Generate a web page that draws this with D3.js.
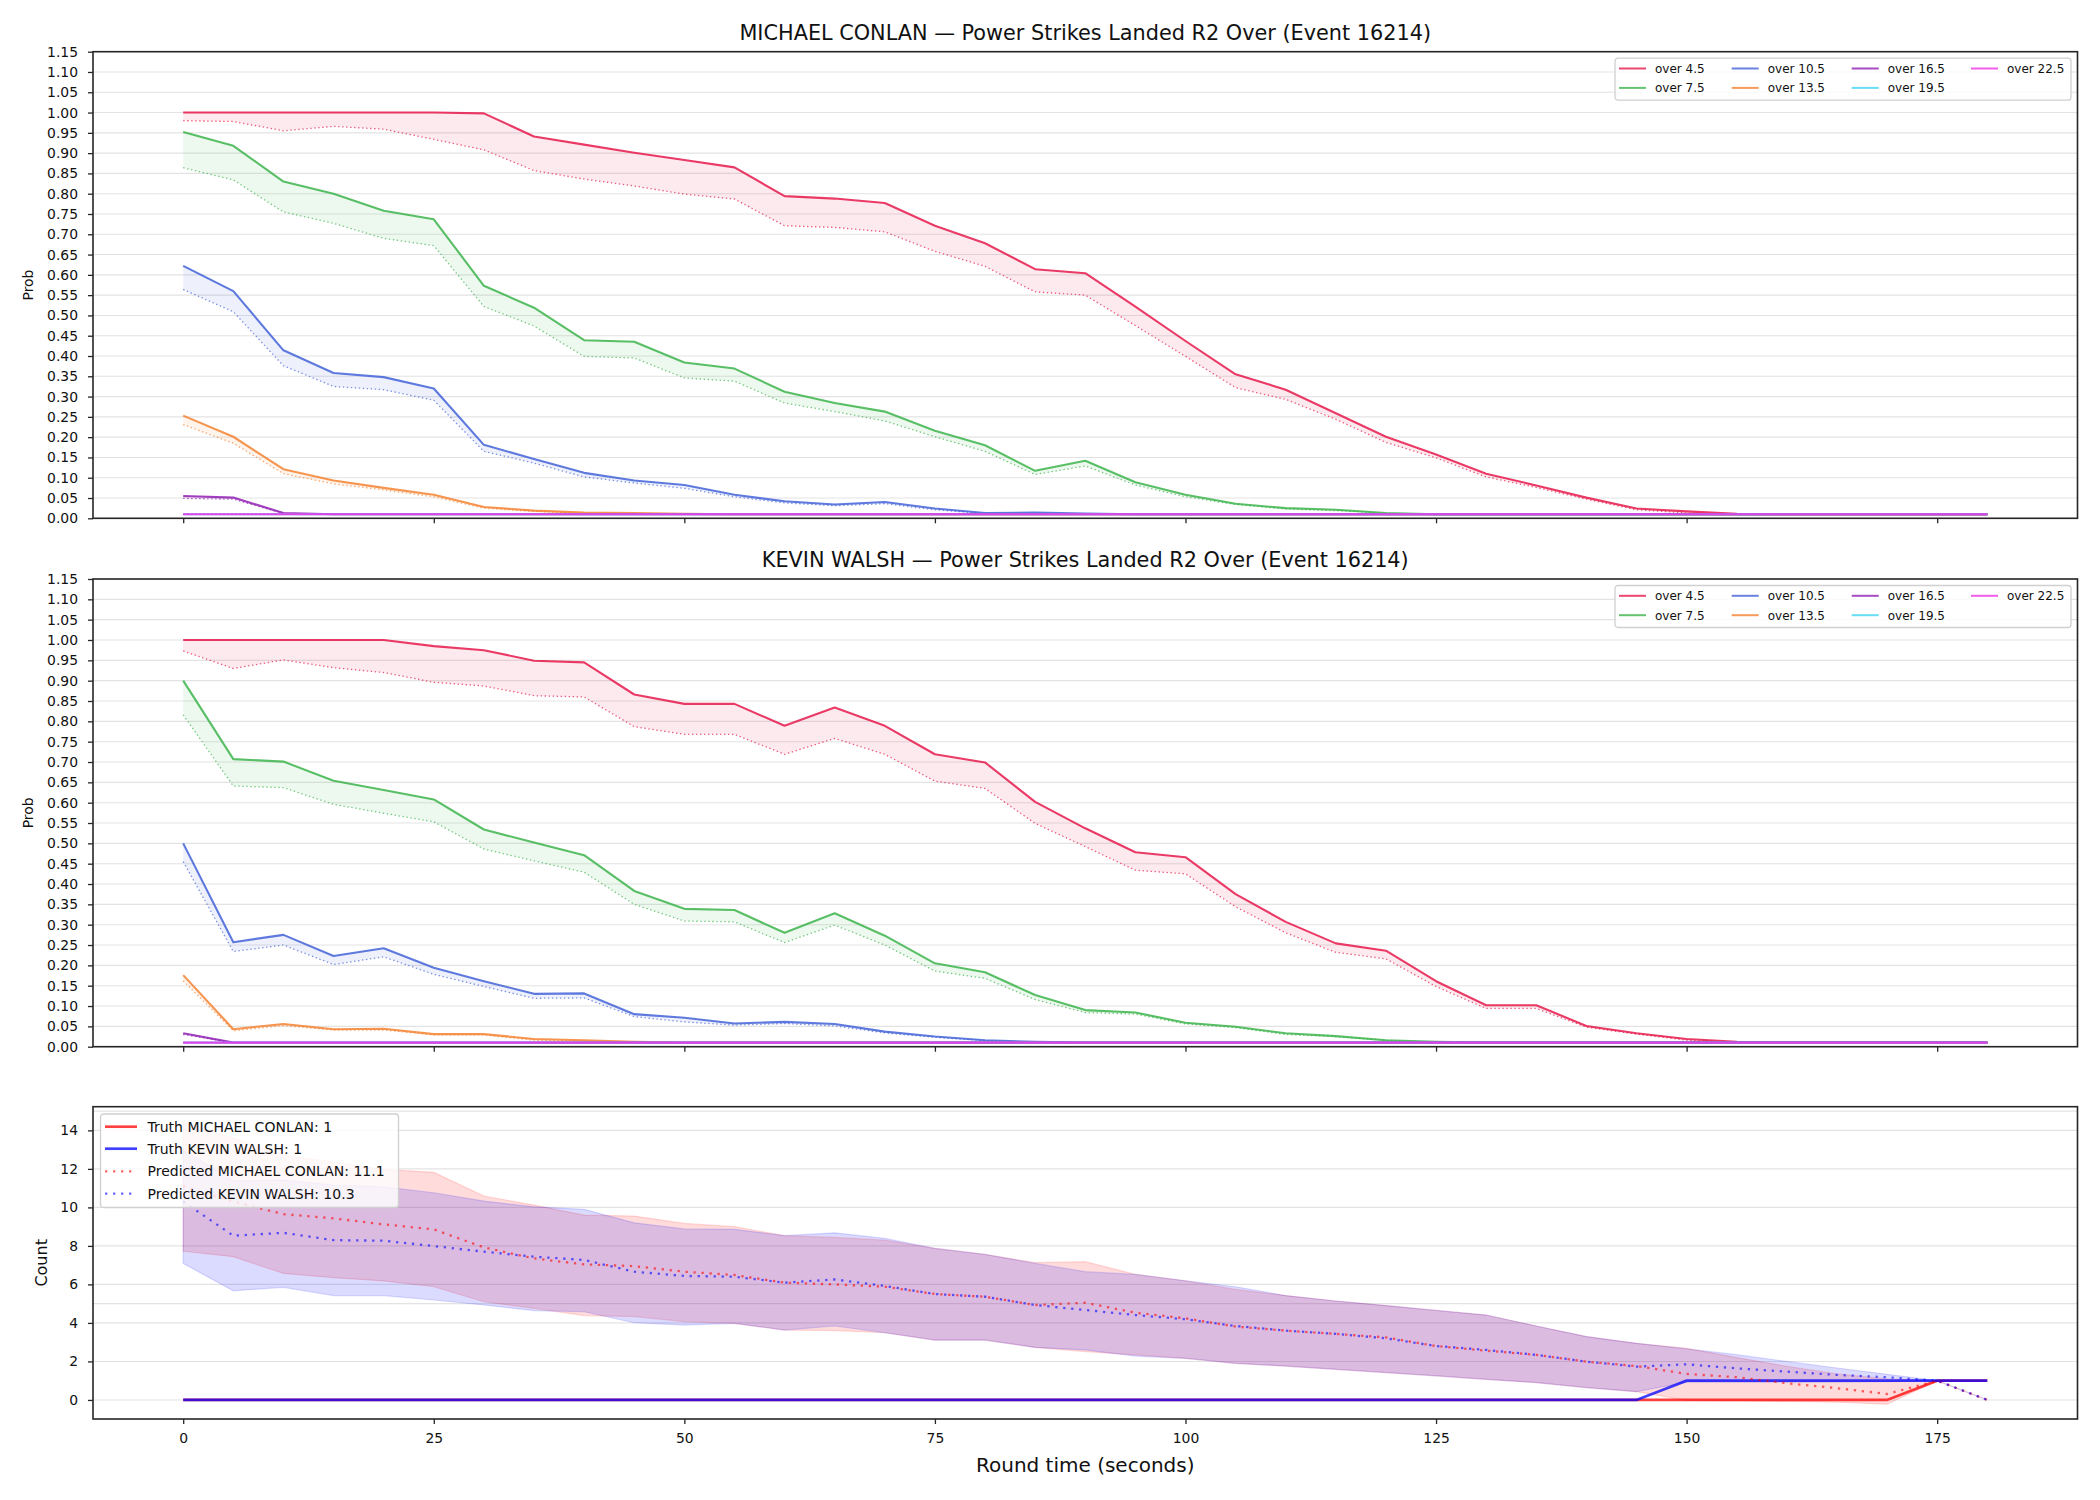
<!DOCTYPE html>
<html><head><meta charset="utf-8">
<script src="https://cdn.jsdelivr.net/npm/d3@7"></script>
<style>
body{margin:0;background:#fff}
svg{font-family:"DejaVu Sans",sans-serif;display:block}
</style>
</head><body>
<svg id="chart" width="2100" height="1500"></svg>
<script>
// ---------------- DATA ----------------
const times = [0,5,10,15,20,25,30,35,40,45,50,55,60,65,70,75,80,85,90,95,100,105,110,115,120,125,130,135,140,145,150,155,160,165,170,175,180];
const probTicks = [0,0.05,0.10,0.15,0.20,0.25,0.30,0.35,0.40,0.45,0.50,0.55,0.60,0.65,0.70,0.75,0.80,0.85,0.90,0.95,1.00,1.05,1.10,1.15];
const timeTicks = [0,25,50,75,100,125,150,175];
const countTicks = [0,2,4,6,8,10,12,14];
const countExtraGrid = [5,15];
const thresholdLabels = ["over 4.5","over 7.5","over 10.5","over 13.5","over 16.5","over 19.5","over 22.5"];
const thresholdColors = ["#e6194b","#3cb44b","#4363d8","#f58231","#911eb4","#42d4f4","#f032e6"];
const titles = ["MICHAEL CONLAN — Power Strikes Landed R2 Over (Event 16214)", "KEVIN WALSH — Power Strikes Landed R2 Over (Event 16214)"];

// MICHAEL CONLAN (solid = market, dotted = model)
const conlanOver45 = [1.00,1.00,1.00,1.00,1.00,1.00,0.998,0.941,0.921,0.901,0.883,0.865,0.794,0.788,0.777,0.721,0.678,0.614,0.604,0.522,0.437,0.355,0.317,0.259,0.201,0.157,0.110,0.081,0.051,0.024,0.017,0.011,0.010,0.010,0.010,0.010,0.010];
const conlanOver45Model = [0.980,0.978,0.955,0.966,0.959,0.934,0.908,0.857,0.836,0.819,0.799,0.787,0.721,0.717,0.706,0.658,0.621,0.558,0.550,0.475,0.399,0.322,0.293,0.244,0.187,0.149,0.102,0.076,0.047,0.021,0.013,0.010,0.010,0.010,0.010,0.010,0.010];
const conlanOver75 = [0.952,0.918,0.830,0.800,0.758,0.737,0.573,0.519,0.439,0.435,0.384,0.369,0.312,0.284,0.263,0.216,0.180,0.117,0.142,0.089,0.058,0.036,0.025,0.021,0.013,0.010,0.010,0.010,0.010,0.010,0.010,0.010,0.010,0.010,0.010,0.010,0.010];
const conlanOver75Model = [0.864,0.834,0.755,0.727,0.690,0.672,0.522,0.474,0.399,0.395,0.346,0.338,0.284,0.263,0.240,0.201,0.165,0.108,0.129,0.082,0.053,0.034,0.023,0.019,0.013,0.010,0.010,0.010,0.010,0.010,0.010,0.010,0.010,0.010,0.010,0.010,0.010];
const conlanOver105 = [0.622,0.560,0.414,0.358,0.348,0.320,0.181,0.146,0.112,0.093,0.082,0.058,0.042,0.034,0.040,0.024,0.013,0.014,0.012,0.010,0.010,0.010,0.010,0.010,0.010,0.010,0.010,0.010,0.010,0.010,0.010,0.010,0.010,0.010,0.010,0.010,0.010];
const conlanOver105Model = [0.564,0.509,0.376,0.325,0.317,0.291,0.165,0.136,0.102,0.087,0.074,0.053,0.038,0.031,0.036,0.021,0.012,0.012,0.011,0.010,0.010,0.010,0.010,0.010,0.010,0.010,0.010,0.010,0.010,0.010,0.010,0.010,0.010,0.010,0.010,0.010,0.010];
const conlanOver135 = [0.253,0.201,0.121,0.093,0.075,0.058,0.028,0.019,0.014,0.013,0.011,0.010,0.010,0.010,0.010,0.010,0.010,0.010,0.010,0.010,0.010,0.010,0.010,0.010,0.010,0.010,0.010,0.010,0.010,0.010,0.010,0.010,0.010,0.010,0.010,0.010,0.010];
const conlanOver135Model = [0.231,0.185,0.110,0.085,0.070,0.053,0.025,0.017,0.013,0.012,0.010,0.010,0.010,0.010,0.010,0.010,0.010,0.010,0.010,0.010,0.010,0.010,0.010,0.010,0.010,0.010,0.010,0.010,0.010,0.010,0.010,0.010,0.010,0.010,0.010,0.010,0.010];
const conlanOver165 = [0.055,0.051,0.013,0.010,0.010,0.010,0.010,0.010,0.010,0.010,0.010,0.010,0.010,0.010,0.010,0.010,0.010,0.010,0.010,0.010,0.010,0.010,0.010,0.010,0.010,0.010,0.010,0.010,0.010,0.010,0.010,0.010,0.010,0.010,0.010,0.010,0.010];
const conlanOver165Model = [0.049,0.047,0.012,0.010,0.010,0.010,0.010,0.010,0.010,0.010,0.010,0.010,0.010,0.010,0.010,0.010,0.010,0.010,0.010,0.010,0.010,0.010,0.010,0.010,0.010,0.010,0.010,0.010,0.010,0.010,0.010,0.010,0.010,0.010,0.010,0.010,0.010];
const conlanOver195 = [0.010,0.010,0.010,0.010,0.010,0.010,0.010,0.010,0.010,0.010,0.010,0.010,0.010,0.010,0.010,0.010,0.010,0.010,0.010,0.010,0.010,0.010,0.010,0.010,0.010,0.010,0.010,0.010,0.010,0.010,0.010,0.010,0.010,0.010,0.010,0.010,0.010];
const conlanOver195Model = [0.010,0.010,0.010,0.010,0.010,0.010,0.010,0.010,0.010,0.010,0.010,0.010,0.010,0.010,0.010,0.010,0.010,0.010,0.010,0.010,0.010,0.010,0.010,0.010,0.010,0.010,0.010,0.010,0.010,0.010,0.010,0.010,0.010,0.010,0.010,0.010,0.010];
const conlanOver225 = [0.010,0.010,0.010,0.010,0.010,0.010,0.010,0.010,0.010,0.010,0.010,0.010,0.010,0.010,0.010,0.010,0.010,0.010,0.010,0.010,0.010,0.010,0.010,0.010,0.010,0.010,0.010,0.010,0.010,0.010,0.010,0.010,0.010,0.010,0.010,0.010,0.010];
const conlanOver225Model = [0.010,0.010,0.010,0.010,0.010,0.010,0.010,0.010,0.010,0.010,0.010,0.010,0.010,0.010,0.010,0.010,0.010,0.010,0.010,0.010,0.010,0.010,0.010,0.010,0.010,0.010,0.010,0.010,0.010,0.010,0.010,0.010,0.010,0.010,0.010,0.010,0.010];

// KEVIN WALSH
const walshOver45 = [1.00,1.00,1.00,1.00,1.00,0.985,0.975,0.949,0.945,0.866,0.843,0.843,0.789,0.834,0.789,0.719,0.699,0.602,0.537,0.478,0.466,0.375,0.307,0.254,0.236,0.161,0.102,0.102,0.051,0.033,0.019,0.012,0.010,0.010,0.010,0.010,0.010];
const walshOver45Model = [0.973,0.930,0.951,0.932,0.920,0.896,0.887,0.863,0.860,0.787,0.768,0.768,0.719,0.758,0.719,0.653,0.635,0.549,0.492,0.434,0.425,0.344,0.280,0.232,0.216,0.148,0.094,0.094,0.048,0.031,0.016,0.011,0.010,0.010,0.010,0.010,0.010];
const walshOver75 = [0.900,0.707,0.701,0.654,0.631,0.608,0.534,0.502,0.471,0.383,0.339,0.336,0.280,0.328,0.273,0.205,0.183,0.127,0.090,0.084,0.059,0.049,0.033,0.026,0.016,0.012,0.010,0.010,0.010,0.010,0.010,0.010,0.010,0.010,0.010,0.010,0.010];
const walshOver75Model = [0.816,0.641,0.637,0.596,0.574,0.553,0.486,0.457,0.429,0.350,0.309,0.307,0.256,0.299,0.250,0.186,0.168,0.116,0.084,0.080,0.056,0.047,0.030,0.025,0.016,0.011,0.010,0.010,0.010,0.010,0.010,0.010,0.010,0.010,0.010,0.010,0.010];
const walshOver105 = [0.500,0.257,0.275,0.223,0.242,0.194,0.161,0.130,0.131,0.080,0.071,0.057,0.061,0.056,0.037,0.025,0.016,0.012,0.010,0.010,0.010,0.010,0.010,0.010,0.010,0.010,0.010,0.010,0.010,0.010,0.010,0.010,0.010,0.010,0.010,0.010,0.010];
const walshOver105Model = [0.455,0.234,0.250,0.202,0.221,0.178,0.148,0.119,0.120,0.074,0.061,0.053,0.057,0.051,0.034,0.023,0.015,0.011,0.010,0.010,0.010,0.010,0.010,0.010,0.010,0.010,0.010,0.010,0.010,0.010,0.010,0.010,0.010,0.010,0.010,0.010,0.010];
const walshOver135 = [0.176,0.043,0.056,0.043,0.044,0.031,0.031,0.019,0.016,0.012,0.010,0.010,0.010,0.010,0.010,0.010,0.010,0.010,0.010,0.010,0.010,0.010,0.010,0.010,0.010,0.010,0.010,0.010,0.010,0.010,0.010,0.010,0.010,0.010,0.010,0.010,0.010];
const walshOver135Model = [0.162,0.039,0.052,0.041,0.041,0.029,0.029,0.016,0.014,0.011,0.010,0.010,0.010,0.010,0.010,0.010,0.010,0.010,0.010,0.010,0.010,0.010,0.010,0.010,0.010,0.010,0.010,0.010,0.010,0.010,0.010,0.010,0.010,0.010,0.010,0.010,0.010];
const walshOver165 = [0.033,0.010,0.010,0.010,0.010,0.010,0.010,0.010,0.010,0.010,0.010,0.010,0.010,0.010,0.010,0.010,0.010,0.010,0.010,0.010,0.010,0.010,0.010,0.010,0.010,0.010,0.010,0.010,0.010,0.010,0.010,0.010,0.010,0.010,0.010,0.010,0.010];
const walshOver165Model = [0.030,0.010,0.010,0.010,0.010,0.010,0.010,0.010,0.010,0.010,0.010,0.010,0.010,0.010,0.010,0.010,0.010,0.010,0.010,0.010,0.010,0.010,0.010,0.010,0.010,0.010,0.010,0.010,0.010,0.010,0.010,0.010,0.010,0.010,0.010,0.010,0.010];
const walshOver195 = [0.010,0.010,0.010,0.010,0.010,0.010,0.010,0.010,0.010,0.010,0.010,0.010,0.010,0.010,0.010,0.010,0.010,0.010,0.010,0.010,0.010,0.010,0.010,0.010,0.010,0.010,0.010,0.010,0.010,0.010,0.010,0.010,0.010,0.010,0.010,0.010,0.010];
const walshOver195Model = [0.010,0.010,0.010,0.010,0.010,0.010,0.010,0.010,0.010,0.010,0.010,0.010,0.010,0.010,0.010,0.010,0.010,0.010,0.010,0.010,0.010,0.010,0.010,0.010,0.010,0.010,0.010,0.010,0.010,0.010,0.010,0.010,0.010,0.010,0.010,0.010,0.010];
const walshOver225 = [0.010,0.010,0.010,0.010,0.010,0.010,0.010,0.010,0.010,0.010,0.010,0.010,0.010,0.010,0.010,0.010,0.010,0.010,0.010,0.010,0.010,0.010,0.010,0.010,0.010,0.010,0.010,0.010,0.010,0.010,0.010,0.010,0.010,0.010,0.010,0.010,0.010];
const walshOver225Model = [0.010,0.010,0.010,0.010,0.010,0.010,0.010,0.010,0.010,0.010,0.010,0.010,0.010,0.010,0.010,0.010,0.010,0.010,0.010,0.010,0.010,0.010,0.010,0.010,0.010,0.010,0.010,0.010,0.010,0.010,0.010,0.010,0.010,0.010,0.010,0.010,0.010];

// Count panel
const truthConlan = [0,0,0,0,0,0,0,0,0,0,0,0,0,0,0,0,0,0,0,0,0,0,0,0,0,0,0,0,0,0,0,0,0,0,0,1,1];
const truthWalsh  = [0,0,0,0,0,0,0,0,0,0,0,0,0,0,0,0,0,0,0,0,0,0,0,0,0,0,0,0,0,0,1,1,1,1,1,1,1];
const predConlan = [11.1,10.3,9.65,9.43,9.12,8.86,7.92,7.35,7.04,6.95,6.66,6.49,6.09,6.00,5.88,5.50,5.36,4.93,5.05,4.53,4.24,3.81,3.60,3.43,3.25,2.80,2.56,2.34,1.99,1.76,1.35,1.18,0.87,0.61,0.31,1.00,0.00];
const predWalsh = [10.3,8.53,8.68,8.30,8.27,7.99,7.70,7.44,7.27,6.66,6.44,6.40,6.09,6.26,5.92,5.50,5.36,4.93,4.67,4.41,4.19,3.84,3.60,3.43,3.20,2.80,2.60,2.34,1.99,1.73,1.85,1.64,1.47,1.30,1.18,1.00,0.00];
const conlanBandHigh = [14.4,13.6,12.7,12.37,11.97,11.82,10.59,10.12,9.60,9.55,9.17,9.00,8.53,8.44,8.30,7.87,7.56,7.13,7.18,6.52,6.19,5.74,5.42,5.14,4.90,4.65,4.41,3.84,3.29,2.94,2.68,2.20,1.75,1.35,1.10,1.00,0.00];
const conlanBandLow = [7.72,7.44,6.57,6.35,6.18,5.88,5.10,4.76,4.38,4.33,4.07,3.98,3.63,3.60,3.49,3.11,3.11,2.73,2.51,2.34,2.16,1.90,1.76,1.59,1.42,1.25,1.07,0.90,0.64,0.43,-0.02,-0.05,-0.08,-0.12,-0.22,1.00,0.00];
const walshBandHigh = [13.0,11.38,11.42,11.16,11.07,10.76,10.33,10.03,9.90,9.20,8.88,8.86,8.53,8.68,8.39,7.87,7.56,7.09,6.66,6.52,6.19,5.88,5.42,5.14,4.90,4.65,4.41,3.84,3.29,2.94,2.65,2.35,2.00,1.66,1.33,1.00,0.00];
const walshBandLow = [7.09,5.67,5.85,5.42,5.42,5.19,4.93,4.64,4.58,4.01,3.89,3.98,3.63,3.84,3.49,3.11,3.11,2.73,2.60,2.28,2.16,1.90,1.76,1.59,1.42,1.25,1.07,0.90,0.64,0.43,0.92,0.92,0.92,0.93,0.95,1.00,0.00];
const countLegendLabels = ["Truth MICHAEL CONLAN: 1","Truth KEVIN WALSH: 1","Predicted MICHAEL CONLAN: 11.1","Predicted KEVIN WALSH: 10.3"];

// ---------------- DRAW ----------------
const svg = d3.select("#chart");
const FONT = '"DejaVu Sans", sans-serif';
const L = 93, R = 2077.5;
const x = d3.scaleLinear().domain([-9, 189]).range([L, R]);
const spineColor = "#262626";
const gridColor = "#e3e3e3";

const probPanels = [
  {top: 51.7, bottom: 518.3, title: titles[0],
   market: [conlanOver45, conlanOver75, conlanOver105, conlanOver135, conlanOver165, conlanOver195, conlanOver225],
   model: [conlanOver45Model, conlanOver75Model, conlanOver105Model, conlanOver135Model, conlanOver165Model, conlanOver195Model, conlanOver225Model]},
  {top: 579, bottom: 1046.7, title: titles[1],
   market: [walshOver45, walshOver75, walshOver105, walshOver135, walshOver165, walshOver195, walshOver225],
   model: [walshOver45Model, walshOver75Model, walshOver105Model, walshOver135Model, walshOver165Model, walshOver195Model, walshOver225Model]}
];

function drawXAxis(g, bottom, withLabels) {
  const ax = g.append("g").attr("transform", `translate(0,${bottom})`)
    .call(d3.axisBottom(x).tickValues(timeTicks).tickSize(5).tickPadding(9)
      .tickFormat(withLabels ? d3.format("d") : () => ""));
  ax.select(".domain").remove();
  ax.selectAll(".tick line").attr("stroke", spineColor).attr("stroke-width", 1.3);
  ax.selectAll(".tick text").attr("fill", "#111").style("font-family", FONT).style("font-size", "13.9px");
}

probPanels.forEach((p, pi) => {
  const g = svg.append("g");
  const y = d3.scaleLinear().domain([0, 1.15]).range([p.bottom, p.top]);
  const clipId = "clip" + pi;
  svg.append("clipPath").attr("id", clipId).append("rect")
    .attr("x", L).attr("y", p.top).attr("width", R - L).attr("height", p.bottom - p.top);

  g.append("g").selectAll("line").data(probTicks).join("line")
    .attr("x1", L).attr("x2", R).attr("y1", d => y(d)).attr("y2", d => y(d))
    .attr("stroke", gridColor).attr("stroke-width", 1.1);

  const plot = g.append("g").attr("clip-path", `url(#${clipId})`);
  p.market.forEach((arr, i) => {
    const area = d3.area().x((d, j) => x(times[j])).y0((d, j) => y(p.model[i][j])).y1(d => y(d));
    plot.append("path").datum(arr).attr("d", area)
      .attr("fill", thresholdColors[i]).attr("fill-opacity", 0.09).attr("stroke", "none");
  });
  p.market.forEach((arr, i) => {
    const line = d3.line().x((d, j) => x(times[j])).y(d => y(d));
    plot.append("path").datum(p.model[i]).attr("d", line)
      .attr("fill", "none").attr("stroke", thresholdColors[i]).attr("stroke-opacity", 0.7)
      .attr("stroke-width", 1.3).attr("stroke-dasharray", "1.4,2.6");
    plot.append("path").datum(arr).attr("d", line)
      .attr("fill", "none").attr("stroke", thresholdColors[i]).attr("stroke-opacity", 0.85)
      .attr("stroke-width", 2.1).attr("stroke-linejoin", "round");
  });

  const ay = g.append("g").attr("transform", `translate(${L},0)`)
    .call(d3.axisLeft(y).tickValues(probTicks).tickSize(5).tickPadding(10).tickFormat(d3.format(".2f")));
  ay.select(".domain").remove();
  ay.selectAll(".tick line").attr("stroke", spineColor).attr("stroke-width", 1.3);
  ay.selectAll(".tick text").attr("fill", "#111").style("font-family", FONT).style("font-size", "13.9px");

  drawXAxis(g, p.bottom, false);

  g.append("rect").attr("x", L).attr("y", p.top).attr("width", R - L).attr("height", p.bottom - p.top)
    .attr("fill", "none").attr("stroke", spineColor).attr("stroke-width", 1.6);

  g.append("text").attr("x", (L + R) / 2).attr("y", p.top - 12).attr("text-anchor", "middle")
    .style("font-family", FONT).style("font-size", "20.8px").attr("fill", "#111").text(p.title);
  g.append("text").attr("transform", `translate(33,${(p.top + p.bottom) / 2}) rotate(-90)`)
    .attr("text-anchor", "middle").style("font-family", FONT).style("font-size", "13.9px").attr("fill", "#111").text("Prob");

  const lg = g.append("g").attr("transform", `translate(1615,${p.top + 6.5})`);
  lg.append("rect").attr("x", 0).attr("y", 0).attr("width", 456).attr("height", 42).attr("rx", 3)
    .attr("fill", "#fff").attr("fill-opacity", 0.8).attr("stroke", "#d0d0d0").attr("stroke-width", 1.3);
  const colX = [4, 116.7, 236.7, 356];
  thresholdLabels.forEach((lab, i) => {
    const col = Math.floor(i / 2), row = i % 2;
    const cy = row === 0 ? 10.3 : 29.7;
    lg.append("line").attr("x1", colX[col]).attr("x2", colX[col] + 27).attr("y1", cy).attr("y2", cy)
      .attr("stroke", thresholdColors[i]).attr("stroke-opacity", 0.8).attr("stroke-width", 2);
    lg.append("text").attr("x", colX[col] + 36).attr("y", cy + 4.3)
      .style("font-family", FONT).style("font-size", "12px").attr("fill", "#111").text(lab);
  });
});

// ---------------- COUNT PANEL ----------------
(function() {
  const top = 1106.7, bottom = 1419;
  const g = svg.append("g");
  const y = d3.scaleLinear().domain([-0.99, 15.23]).range([bottom, top]);
  svg.append("clipPath").attr("id", "clip2").append("rect")
    .attr("x", L).attr("y", top).attr("width", R - L).attr("height", bottom - top);

  g.append("g").selectAll("line").data(countTicks.concat(countExtraGrid)).join("line")
    .attr("x1", L).attr("x2", R).attr("y1", d => y(d)).attr("y2", d => y(d))
    .attr("stroke", gridColor).attr("stroke-width", 1.1);

  const plot = g.append("g").attr("clip-path", "url(#clip2)");
  const band = (hi, lo) => d3.area().x((d, j) => x(times[j])).y0((d, j) => y(lo[j])).y1((d, j) => y(hi[j]));
  plot.append("path").datum(times).attr("d", band(conlanBandHigh, conlanBandLow))
    .attr("fill", "#ff0000").attr("fill-opacity", 0.14).attr("stroke", "#ff0000").attr("stroke-opacity", 0.14).attr("stroke-width", 1.2);
  plot.append("path").datum(times).attr("d", band(walshBandHigh, walshBandLow))
    .attr("fill", "#0000ff").attr("fill-opacity", 0.14).attr("stroke", "#0000ff").attr("stroke-opacity", 0.14).attr("stroke-width", 1.2);

  const line = d3.line().x((d, j) => x(times[j])).y(d => y(d));
  plot.append("path").datum(truthConlan).attr("d", line).attr("fill", "none")
    .attr("stroke", "#ff0000").attr("stroke-opacity", 0.75).attr("stroke-width", 2.7);
  plot.append("path").datum(truthWalsh).attr("d", line).attr("fill", "none")
    .attr("stroke", "#0000ff").attr("stroke-opacity", 0.75).attr("stroke-width", 2.7);
  plot.append("path").datum(predConlan).attr("d", line).attr("fill", "none")
    .attr("stroke", "#ff0000").attr("stroke-opacity", 0.6).attr("stroke-width", 2.3).attr("stroke-dasharray", "2.3,5.7");
  plot.append("path").datum(predWalsh).attr("d", line).attr("fill", "none")
    .attr("stroke", "#0000ff").attr("stroke-opacity", 0.6).attr("stroke-width", 2.3).attr("stroke-dasharray", "2.3,5.7");

  const ay = g.append("g").attr("transform", `translate(${L},0)`)
    .call(d3.axisLeft(y).tickValues(countTicks).tickSize(5).tickPadding(10).tickFormat(d3.format("d")));
  ay.select(".domain").remove();
  ay.selectAll(".tick line").attr("stroke", spineColor).attr("stroke-width", 1.3);
  ay.selectAll(".tick text").attr("fill", "#111").style("font-family", FONT).style("font-size", "13.9px");

  drawXAxis(g, bottom, true);

  g.append("rect").attr("x", L).attr("y", top).attr("width", R - L).attr("height", bottom - top)
    .attr("fill", "none").attr("stroke", spineColor).attr("stroke-width", 1.6);

  g.append("text").attr("transform", `translate(47,${(top + bottom) / 2}) rotate(-90)`)
    .attr("text-anchor", "middle").style("font-family", FONT).style("font-size", "16px").attr("fill", "#111").text("Count");
  g.append("text").attr("x", (L + R) / 2).attr("y", 1472).attr("text-anchor", "middle")
    .style("font-family", FONT).style("font-size", "20px").attr("fill", "#111").text("Round time (seconds)");

  const lg = g.append("g").attr("transform", "translate(100.5,1114)");
  lg.append("rect").attr("width", 298).attr("height", 93.5).attr("rx", 3)
    .attr("fill", "#fff").attr("fill-opacity", 0.8).attr("stroke", "#d0d0d0").attr("stroke-width", 1.3);
  const legStyles = [
    {c: "#ff0000", o: 0.75, w: 2.7, dash: null},
    {c: "#0000ff", o: 0.75, w: 2.7, dash: null},
    {c: "#ff0000", o: 0.6, w: 2.3, dash: "2.3,5.7"},
    {c: "#0000ff", o: 0.6, w: 2.3, dash: "2.3,5.7"}
  ];
  const rowY = [12.7, 34.7, 57.3, 79.7];
  countLegendLabels.forEach((lab, i) => {
    const s = legStyles[i];
    const ln = lg.append("line").attr("x1", 4.5).attr("x2", 36.5).attr("y1", rowY[i]).attr("y2", rowY[i])
      .attr("stroke", s.c).attr("stroke-opacity", s.o).attr("stroke-width", s.w);
    if (s.dash) ln.attr("stroke-dasharray", s.dash);
    lg.append("text").attr("x", 47).attr("y", rowY[i] + 5)
      .style("font-family", FONT).style("font-size", "14px").attr("fill", "#111").text(lab);
  });
})();
</script>
</body></html>
